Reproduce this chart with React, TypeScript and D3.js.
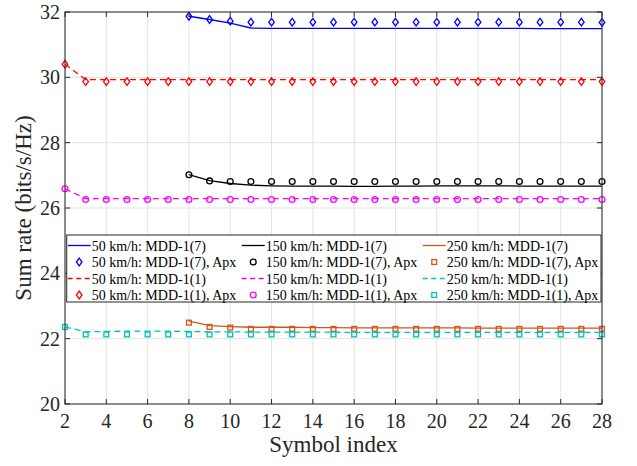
import React from "react";
import * as d3 from "d3";

// symbol indices
const idxFull = [2, 3, 4, 5, 6, 7, 8, 9, 10, 11, 12, 13, 14, 15, 16, 17, 18, 19, 20, 21, 22, 23, 24, 25, 26, 27, 28];
const idxLate = [8, 9, 10, 11, 12, 13, 14, 15, 16, 17, 18, 19, 20, 21, 22, 23, 24, 25, 26, 27, 28];

// MDD-1(7), starts at symbol 8
const v50_7 = [31.87, 31.77, 31.66, 31.51, 31.5, 31.5, 31.5, 31.5, 31.5, 31.5, 31.5, 31.5, 31.5, 31.5, 31.5, 31.5, 31.5, 31.49, 31.49, 31.49, 31.49];
const v50_7apx = [31.87, 31.77, 31.72, 31.69, 31.69, 31.69, 31.69, 31.69, 31.69, 31.69, 31.69, 31.69, 31.69, 31.69, 31.69, 31.69, 31.69, 31.69, 31.69, 31.69, 31.68];
const v150_7 = [27.02, 26.84, 26.75, 26.7, 26.68, 26.67, 26.67, 26.67, 26.66, 26.66, 26.67, 26.67, 26.68, 26.68, 26.68, 26.68, 26.67, 26.67, 26.67, 26.67, 26.67];
const v150_7apx = [27.02, 26.83, 26.81, 26.81, 26.81, 26.81, 26.81, 26.81, 26.81, 26.81, 26.81, 26.81, 26.81, 26.81, 26.81, 26.81, 26.81, 26.81, 26.81, 26.81, 26.81];
const v250_7 = [22.54, 22.4, 22.37, 22.35, 22.35, 22.35, 22.34, 22.34, 22.33, 22.33, 22.33, 22.33, 22.33, 22.33, 22.32, 22.32, 22.32, 22.32, 22.32, 22.32, 22.32];
const v250_7apx = [22.49, 22.36, 22.34, 22.3, 22.3, 22.3, 22.3, 22.3, 22.3, 22.3, 22.3, 22.3, 22.3, 22.3, 22.3, 22.3, 22.3, 22.3, 22.3, 22.3, 22.3];

// MDD-1(1), starts at symbol 2
const v50_1 = [30.4, 29.93, 29.93, 29.93, 29.93, 29.93, 29.93, 29.93, 29.93, 29.93, 29.93, 29.93, 29.93, 29.93, 29.93, 29.93, 29.93, 29.93, 29.93, 29.93, 29.93, 29.93, 29.93, 29.93, 29.93, 29.93, 29.93];
const v50_1apx = [30.4, 29.87, 29.87, 29.87, 29.87, 29.87, 29.87, 29.87, 29.87, 29.87, 29.87, 29.87, 29.87, 29.87, 29.87, 29.87, 29.87, 29.87, 29.87, 29.87, 29.87, 29.87, 29.87, 29.87, 29.87, 29.87, 29.87];
const v150_1 = [26.59, 26.29, 26.29, 26.29, 26.29, 26.29, 26.29, 26.29, 26.29, 26.29, 26.29, 26.29, 26.29, 26.29, 26.29, 26.29, 26.29, 26.29, 26.29, 26.29, 26.29, 26.29, 26.29, 26.29, 26.29, 26.29, 26.29];
const v150_1apx = [26.59, 26.26, 26.26, 26.26, 26.26, 26.26, 26.26, 26.26, 26.26, 26.26, 26.26, 26.26, 26.26, 26.26, 26.26, 26.26, 26.26, 26.26, 26.26, 26.26, 26.26, 26.26, 26.26, 26.26, 26.26, 26.26, 26.26];
const v250_1 = [22.36, 22.21, 22.22, 22.23, 22.23, 22.23, 22.22, 22.21, 22.21, 22.2, 22.2, 22.2, 22.2, 22.2, 22.19, 22.19, 22.19, 22.19, 22.19, 22.19, 22.19, 22.19, 22.19, 22.19, 22.19, 22.19, 22.19];
const v250_1apx = [22.36, 22.13, 22.13, 22.13, 22.13, 22.13, 22.13, 22.13, 22.13, 22.13, 22.13, 22.13, 22.13, 22.13, 22.13, 22.13, 22.13, 22.13, 22.13, 22.13, 22.13, 22.13, 22.13, 22.13, 22.13, 22.13, 22.13];

const xTicks = [2, 4, 6, 8, 10, 12, 14, 16, 18, 20, 22, 24, 26, 28];
const yTicks = [20, 22, 24, 26, 28, 30, 32];

const BLUE = "#0000ff";
const BLACK = "#000000";
const ORANGE = "#d95319";
const RED = "#ff0000";
const MAGENTA = "#ff00ff";
const CYAN = "#00bfbf";

type Series = { label: string; xs: number[]; ys: number[]; color: string; dash?: boolean; marker?: "diamond" | "circle" | "square" };

// legend order is row-major, 3 columns
const series: Series[] = [
  { label: "50 km/h: MDD-1(7)", xs: idxLate, ys: v50_7, color: BLUE },
  { label: "150 km/h: MDD-1(7)", xs: idxLate, ys: v150_7, color: BLACK },
  { label: "250 km/h: MDD-1(7)", xs: idxLate, ys: v250_7, color: ORANGE },
  { label: "50 km/h: MDD-1(7), Apx", xs: idxLate, ys: v50_7apx, color: BLUE, marker: "diamond" },
  { label: "150 km/h: MDD-1(7), Apx", xs: idxLate, ys: v150_7apx, color: BLACK, marker: "circle" },
  { label: "250 km/h: MDD-1(7), Apx", xs: idxLate, ys: v250_7apx, color: ORANGE, marker: "square" },
  { label: "50 km/h: MDD-1(1)", xs: idxFull, ys: v50_1, color: RED, dash: true },
  { label: "150 km/h: MDD-1(1)", xs: idxFull, ys: v150_1, color: MAGENTA, dash: true },
  { label: "250 km/h: MDD-1(1)", xs: idxFull, ys: v250_1, color: CYAN, dash: true },
  { label: "50 km/h: MDD-1(1), Apx", xs: idxFull, ys: v50_1apx, color: RED, marker: "diamond" },
  { label: "150 km/h: MDD-1(1), Apx", xs: idxFull, ys: v150_1apx, color: MAGENTA, marker: "circle" },
  { label: "250 km/h: MDD-1(1), Apx", xs: idxFull, ys: v250_1apx, color: CYAN, marker: "square" },
];

const TXT = { fontFamily: "Liberation Serif" };
const AX = "#262626";

const Marker = ({ kind, x, y, color }: { kind: string; x: number; y: number; color: string }) => {
  if (kind === "diamond")
    return <path d={`M${x},${y - 3.8}L${x + 2.8},${y}L${x},${y + 3.8}L${x - 2.8},${y}Z`} fill="none" stroke={color} strokeWidth={1.3} />;
  if (kind === "circle") return <circle cx={x} cy={y} r={2.9} fill="none" stroke={color} strokeWidth={1.3} />;
  return <rect x={x - 2.4} y={y - 2.4} width={4.8} height={4.8} fill="none" stroke={color} strokeWidth={1.3} />;
};

const App = () => {
  const left = 65, right = 602, top = 12, bottom = 404;
  const x = d3.scaleLinear().domain([2, 28]).range([left, right]);
  const y = d3.scaleLinear().domain([20, 32]).range([bottom, top]);

  const line = (s: Series) =>
    d3.line<number>().x((_, i) => x(s.xs[i])).y((d) => y(d))(s.ys) || "";

  const legCols = [67.7, 241.7, 422.7];
  const legRows = [245.5, 262, 278.5, 295];

  return (
    <svg width={637} height={466} style={{ position: "absolute", left: 0, top: 0, background: "#fff" }}>
      <rect x={left} y={top} width={right - left} height={bottom - top} fill="#fff" />
      {/* grid */}
      {xTicks.map((t) => (
        <line key={"gx" + t} x1={x(t)} x2={x(t)} y1={top} y2={bottom} stroke="#e3e3e3" strokeWidth={1} />
      ))}
      {yTicks.map((t) => (
        <line key={"gy" + t} x1={left} x2={right} y1={y(t)} y2={y(t)} stroke="#e3e3e3" strokeWidth={1} />
      ))}
      {/* data */}
      {series.map((s, k) =>
        s.marker ? (
          <g key={k}>
            {s.ys.map((v, i) => (
              <Marker key={i} kind={s.marker!} x={x(s.xs[i])} y={y(v)} color={s.color} />
            ))}
          </g>
        ) : (
          <path key={k} d={line(s)} fill="none" stroke={s.color} strokeWidth={1.3} strokeDasharray={s.dash ? "6,4" : undefined} />
        )
      )}
      {/* axes box and ticks */}
      <rect x={left} y={top} width={right - left} height={bottom - top} fill="none" stroke={AX} strokeWidth={1} />
      {xTicks.map((t) => (
        <g key={"tx" + t}>
          <line x1={x(t)} x2={x(t)} y1={bottom} y2={bottom - 5} stroke={AX} />
          <line x1={x(t)} x2={x(t)} y1={top} y2={top + 5} stroke={AX} />
          <text x={x(t)} y={428} textAnchor="middle" fontSize={20} fill={AX} style={TXT}>{t}</text>
        </g>
      ))}
      {yTicks.map((t) => (
        <g key={"ty" + t}>
          <line x1={left} x2={left + 5} y1={y(t)} y2={y(t)} stroke={AX} />
          <line x1={right} x2={right - 5} y1={y(t)} y2={y(t)} stroke={AX} />
          <text x={60} y={y(t) + 7} textAnchor="end" fontSize={20} fill={AX} style={TXT}>{t}</text>
        </g>
      ))}
      <text x={(left + right) / 2} y={452} textAnchor="middle" fontSize={23} fill={AX} style={TXT}>Symbol index</text>
      <text transform={`translate(31,${(top + bottom) / 2}) rotate(-90)`} textAnchor="middle" fontSize={23} fill={AX} style={TXT}>
        Sum rate (bits/s/Hz)
      </text>
      {/* legend */}
      <rect x={66.7} y={235} width={601 - 66.7} height={302 - 235} fill="#fff" stroke={AX} strokeWidth={1} />
      {series.map((s, k) => {
        const cx = legCols[k % 3];
        const cy = legRows[Math.floor(k / 3)];
        return (
          <g key={"l" + k}>
            {s.marker ? (
              <Marker kind={s.marker} x={cx + 11.5} y={cy} color={s.color} />
            ) : (
              <line x1={cx} x2={cx + 23} y1={cy} y2={cy} stroke={s.color} strokeWidth={1.3} strokeDasharray={s.dash ? "5,3.5" : undefined} />
            )}
            <text x={cx + 24} y={cy + 5} fontSize={14} fill="#000" style={TXT}>{s.label}</text>
          </g>
        );
      })}
    </svg>
  );
};

export default App;
